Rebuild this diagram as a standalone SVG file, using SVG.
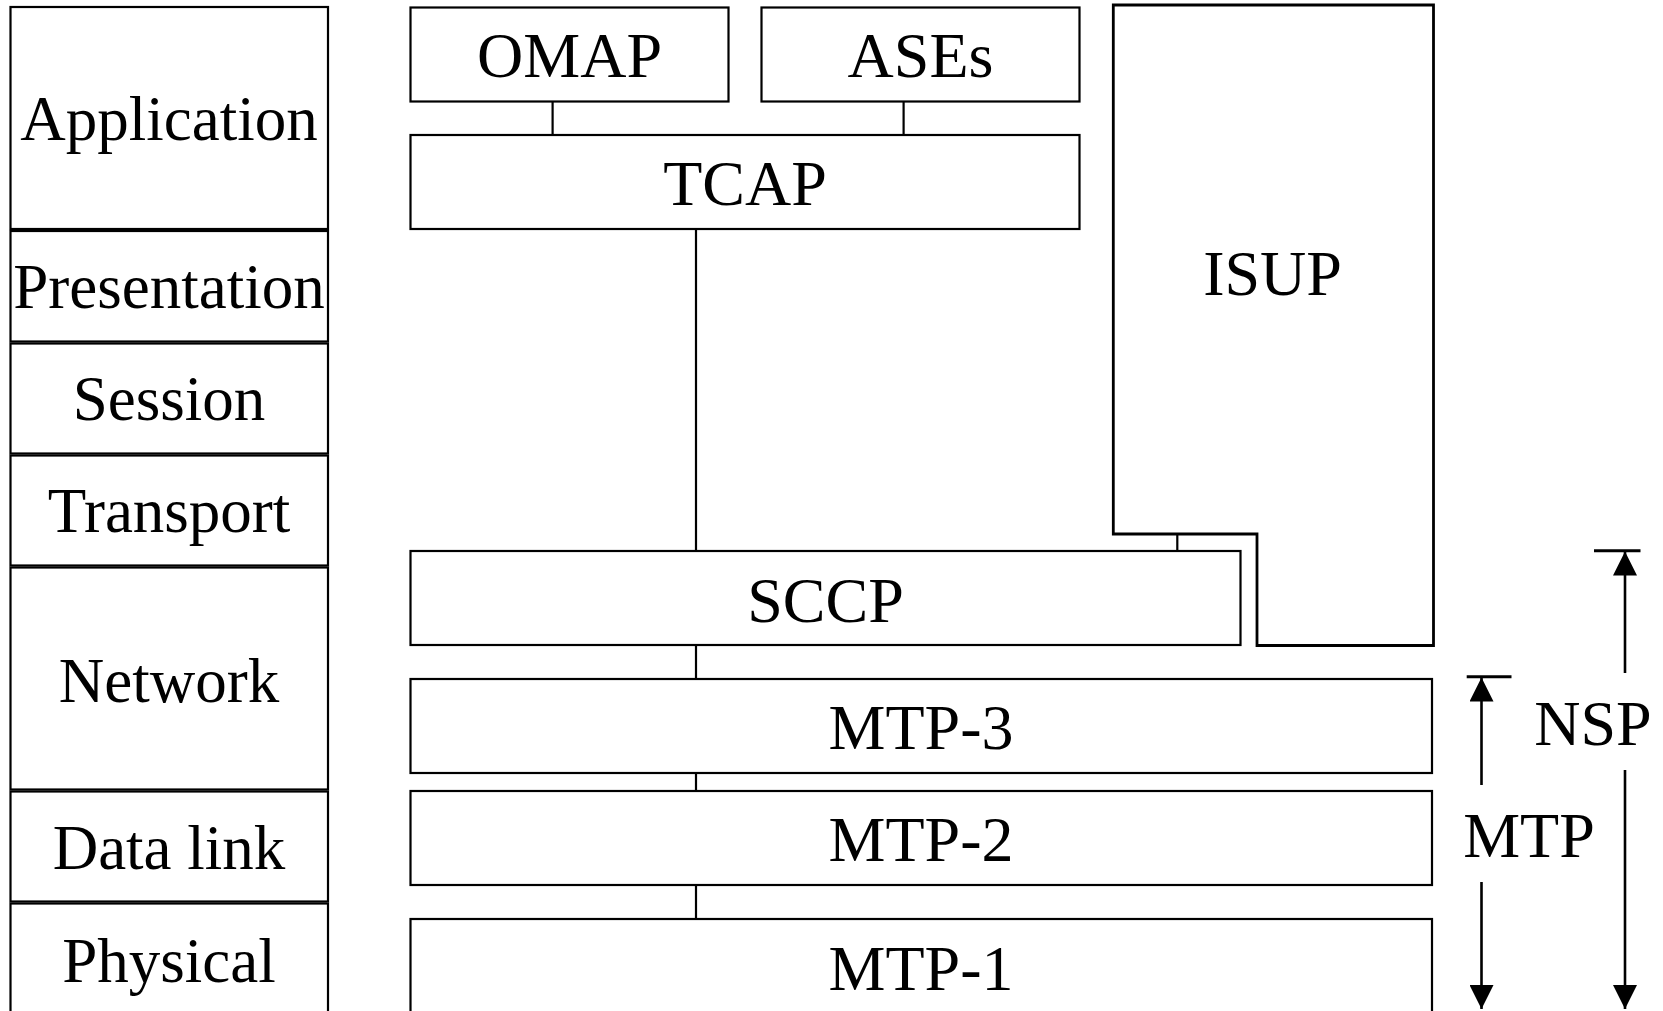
<svg xmlns="http://www.w3.org/2000/svg" width="1663" height="1011" viewBox="0 0 1663 1011">
  <style>
    .box { fill: #fff; stroke: #000; stroke-width: 2.2; }
    .isup { fill: #fff; stroke: #000; stroke-width: 2.8; }
    .lbl { font-family: "Liberation Serif", "Times New Roman", serif; font-size: 64px; fill: #000; text-anchor: middle; }
    .osi { font-family: "Liberation Serif", "Times New Roman", serif; font-size: 63px; fill: #000; text-anchor: middle; }
    .conn { stroke: #000; stroke-width: 2.2; fill: none; }
    .arr { stroke: #000; stroke-width: 2.6; fill: none; }
    .bar { stroke: #000; stroke-width: 3; }
  </style>
  <defs>
    <marker id="head" markerUnits="userSpaceOnUse" markerWidth="24" markerHeight="24" viewBox="0 0 22 22" refX="22" refY="11" orient="auto">
      <path d="M0,0 L22,11 L0,22 Z" fill="#000"/>
    </marker>
  </defs>
  <rect width="1663" height="1011" fill="#fff"/>

  <g id="osi-layers">
    <g id="osi-application"><rect class="box" x="10.5" y="7" width="317.5" height="222"/><text class="osi" x="169" y="140">Application</text></g>
    <g id="osi-presentation"><rect class="box" x="10.5" y="231" width="317.5" height="110.5"/><text class="osi" x="169" y="308">Presentation</text></g>
    <g id="osi-session"><rect class="box" x="10.5" y="343.5" width="317.5" height="110"/><text class="osi" x="169" y="420">Session</text></g>
    <g id="osi-transport"><rect class="box" x="10.5" y="455.5" width="317.5" height="110"/><text class="osi" x="169" y="532">Transport</text></g>
    <g id="osi-network"><rect class="box" x="10.5" y="567.5" width="317.5" height="222"/><text class="osi" x="169" y="701.5">Network</text></g>
    <g id="osi-datalink"><rect class="box" x="10.5" y="791.5" width="317.5" height="110"/><text class="osi" x="169" y="869">Data link</text></g>
    <g id="osi-physical"><rect class="box" x="10.5" y="903.5" width="317.5" height="130"/><text class="osi" x="169" y="982">Physical</text></g>
  </g>

  <g id="connectors">
    <line class="conn" x1="552.6" y1="101.5" x2="552.6" y2="134.5"/>
    <line class="conn" x1="903.6" y1="101.5" x2="903.6" y2="134.5"/>
    <line class="conn" x1="696" y1="229" x2="696" y2="550.5"/>
    <line class="conn" x1="696" y1="645" x2="696" y2="679"/>
    <line class="conn" x1="696" y1="773" x2="696" y2="791"/>
    <line class="conn" x1="696" y1="885" x2="696" y2="919"/>
    <line class="conn" x1="1177.3" y1="534" x2="1177.3" y2="550.5"/>
  </g>

  <g id="omap"><rect class="box" x="410.5" y="7.5" width="318" height="94"/><text class="lbl" x="569.5" y="77">OMAP</text></g>
  <g id="ases"><rect class="box" x="761.5" y="7.5" width="318" height="94"/><text class="lbl" x="920.5" y="77">ASEs</text></g>
  <g id="tcap"><rect class="box" x="410.5" y="135" width="669" height="94"/><text class="lbl" x="745" y="205">TCAP</text></g>
  <g id="isup"><path class="isup" d="M1113.3,5 H1433.5 V645.5 H1257 V534 H1113.3 Z"/><text class="lbl" x="1272.5" y="295">ISUP</text></g>
  <g id="sccp"><rect class="box" x="410.5" y="551" width="830" height="94"/><text class="lbl" x="825.5" y="621.5">SCCP</text></g>
  <g id="mtp3"><rect class="box" x="410.5" y="679" width="1021.5" height="94"/><text class="lbl" x="921" y="749">MTP-3</text></g>
  <g id="mtp2"><rect class="box" x="410.5" y="791" width="1021.5" height="94"/><text class="lbl" x="921" y="861">MTP-2</text></g>
  <g id="mtp1"><rect class="box" x="410.5" y="919" width="1021.5" height="130"/><text class="lbl" x="921" y="990">MTP-1</text></g>

  <g id="scope-brackets">
    <line class="bar" x1="1594" y1="550.7" x2="1640.5" y2="550.7"/>
    <line class="arr" x1="1625" y1="673" x2="1625" y2="551.5" marker-end="url(#head)"/>
    <line class="arr" x1="1625" y1="770" x2="1625" y2="1009" marker-end="url(#head)"/>
    <text class="lbl" x="1593" y="745">NSP</text>
    <line class="bar" x1="1466.7" y1="676.7" x2="1511.5" y2="676.7"/>
    <line class="arr" x1="1481.5" y1="785" x2="1481.5" y2="677.5" marker-end="url(#head)"/>
    <line class="arr" x1="1481.5" y1="882" x2="1481.5" y2="1009" marker-end="url(#head)"/>
    <text class="lbl" x="1529" y="857">MTP</text>
  </g>
</svg>
